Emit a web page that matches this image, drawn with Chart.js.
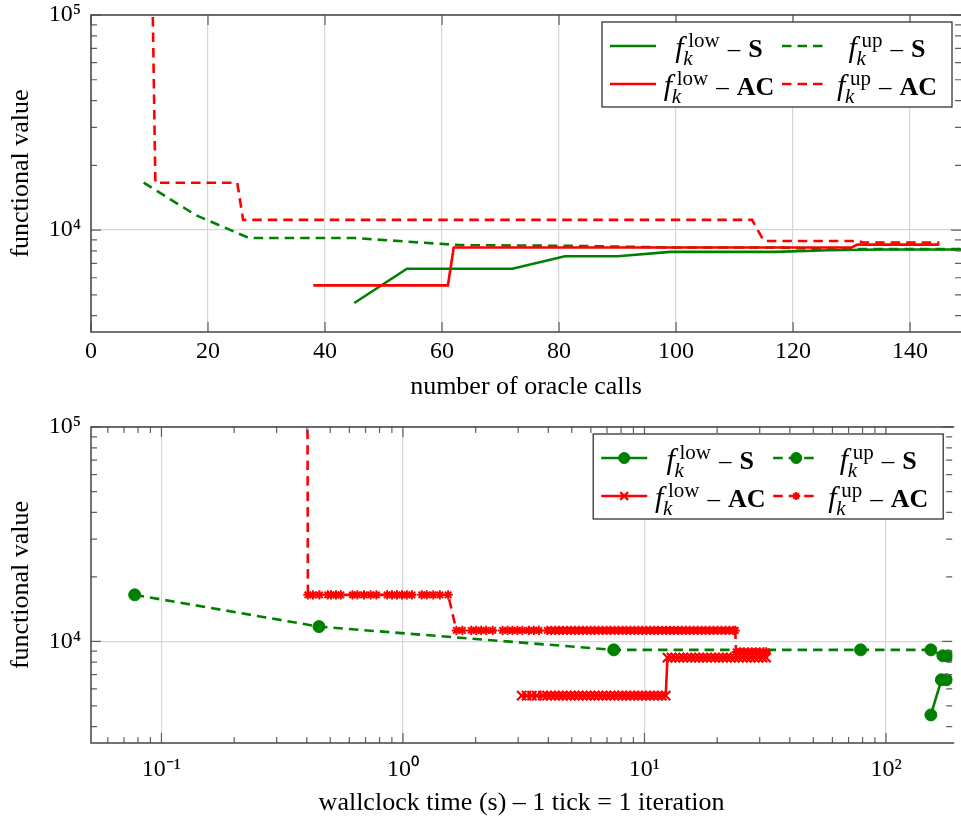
<!DOCTYPE html>
<html><head><meta charset="utf-8">
<script src="https://cdn.jsdelivr.net/npm/chart.js@4.4.1/dist/chart.umd.min.js"></script>
<style>
html,body{margin:0;padding:0;background:#fff;overflow:hidden;}
canvas{display:block;}
</style></head><body>
<canvas id="top" width="961" height="410"></canvas>
<canvas id="bot" width="961" height="411"></canvas>
<script>
// ---------------- data: top chart (number of oracle calls) ----------------
const topXTicks = [0, 20, 40, 60, 80, 100, 120, 140];
const topXMax = 148.7;
const sLowCalls    = [45, 54, 63, 72, 81, 90, 99, 108, 117, 126, 135, 144, 153];
const sLowCallVals = [4580, 6610, 6610, 6610, 7560, 7560, 7920, 7920, 7920, 8050, 8120, 8120, 8120];
const sUpCalls     = [9, 18, 27, 45, 63, 81, 99, 117, 126, 153];
const sUpCallVals  = [16600, 11700, 9180, 9180, 8510, 8450, 8300, 8300, 8150, 8150];
const acLowCalls    = [38, 61, 62, 130, 131, 145];
const acLowCallVals = [5530, 5530, 8300, 8300, 8560, 8560];
const acUpCalls     = [10, 11, 25, 26, 113, 115, 131, 132, 145];
const acUpCallVals  = [1e6, 16600, 16600, 11150, 11150, 8900, 8900, 8750, 8750];

// ---------------- data: bottom chart (wallclock time) ----------------
const sUpTimes = [0.0775, 0.449, 7.46, 78.5, 153.4, 172, 181, 200];
const sUpVals  = [16480, 11720, 9130, 9130, 9130, 8560, 8560, 8560];
const sLowTimes = [153.4, 169.6, 178, 200];
const sLowVals  = [4540, 6620, 6620, 6620];
// AC upper bound: constant levels, each with the iteration times
const acUpLevels = [1e6, 16480, 11250, 8930];
const acUpT0 = [0.401];
const acUpT1 = [0.404, 0.424, 0.451, 0.488, 0.504, 0.528, 0.553, 0.618, 0.648, 0.690, 0.735, 0.777,
  0.860, 0.901, 0.945, 0.991, 1.038, 1.089, 1.196, 1.254, 1.336, 1.422, 1.539];
const acUpT2 = [1.664, 1.762, 1.918, 2.011, 2.108, 2.210, 2.353, 2.586, 2.712, 2.842, 2.980, 3.124,
  3.324, 3.485, 3.654, 3.96, 4.11, 4.27, 4.43, 4.60, 4.78, 4.96, 5.15, 5.35, 5.56, 5.77, 5.99, 6.22,
  6.46, 6.71, 6.97, 7.24, 7.52, 7.81, 8.11, 8.42, 8.74, 9.08, 9.43, 9.79, 10.17, 10.56, 10.97, 11.39,
  11.83, 12.28, 12.75, 13.24, 13.75, 14.28, 14.83, 15.40, 15.99, 16.61, 17.25, 17.91, 18.60, 19.32,
  20.06, 20.83, 21.63, 22.46, 23.33, 23.76];
const acUpT3 = [23.95, 24.9, 25.8, 26.8, 27.8, 28.9, 30.0, 31.1, 31.9];
// AC lower bound
const acLowLevels = [5585, 8400];
const acLowT1 = [3.10, 3.25, 3.42, 3.58, 3.80, 3.95, 4.10, 4.26, 4.42, 4.59, 4.77, 4.95, 5.14, 5.34,
  5.55, 5.76, 5.98, 6.21, 6.45, 6.70, 6.96, 7.23, 7.50, 7.79, 8.09, 8.40, 8.73, 9.06, 9.41, 9.77,
  10.15, 10.54, 10.94, 11.36, 11.80, 12.25];
const acLowT2 = [12.45, 12.93, 13.43, 13.94, 14.48, 15.04, 15.61, 16.21, 16.84, 17.49, 18.16, 18.86,
  19.58, 20.34, 21.12, 21.93, 22.77, 23.65, 24.56, 25.50, 26.48, 27.50, 28.56, 29.66, 30.80, 31.9];

// ---------------- ticks ----------------
const yMajor = [1e4, 1e5];
const yMajorLabels = ['10⁴', '10⁵'];
const yMinor = [4000, 5000, 6000, 7000, 8000, 9000, 20000, 30000, 40000, 50000, 60000, 70000, 80000, 90000];
const yMin = 3357, yMax = 1e5;
const botXMajor = [0.1, 1, 10, 100];
const botXMajorLabels = ['10⁻¹', '10⁰', '10¹', '10²'];
const botXMinor = [0.06, 0.07, 0.08, 0.09, 0.2, 0.3, 0.4, 0.5, 0.6, 0.7, 0.8, 0.9,
  2, 3, 4, 5, 6, 7, 8, 9, 20, 30, 40, 50, 60, 70, 80, 90];
const botXMin = 0.0511, botXMax = 188;

// legend text
const legendSup = ['low', 'up', 'low', 'up'];
const legendMethod = ['S', 'S', 'AC', 'AC'];

// ---------------- styling ----------------
const FONT = '"Liberation Serif", "Times New Roman", serif';
const GREEN = '#008000', RED = '#ff0000';
const GRID = '#d6d6d6', TICKC = '#606060', FRAMEC = '#444444';
const DASH = [9.5, 6];
Chart.defaults.font.family = FONT;

const pts = (xs, ys) => xs.map((x, i) => ({x, y: ys[i]}));
const steps = (levels, groups) => groups.flatMap((g, i) => g.map(t => ({x: t, y: levels[i]})));

function tickList(major, minor) {
  return major.map(v => ({value: v, major: true}))
    .concat(minor.map(v => ({value: v, major: false})))
    .sort((a, b) => a.value - b.value);
}

function drawMarker(ctx, style, x, y, r, color, bw) {
  ctx.save();
  ctx.strokeStyle = color; ctx.fillStyle = color; ctx.lineWidth = bw; ctx.setLineDash([]);
  ctx.beginPath();
  if (style === 'circle') {
    ctx.arc(x, y, r, 0, Math.PI * 2); ctx.fill(); ctx.stroke();
  } else {
    const d = r * Math.SQRT1_2;
    ctx.moveTo(x - d, y - d); ctx.lineTo(x + d, y + d);
    ctx.moveTo(x - d, y + d); ctx.lineTo(x + d, y - d);
    if (style === 'star') {
      ctx.moveTo(x - r, y); ctx.lineTo(x + r, y);
      ctx.moveTo(x, y - r); ctx.lineTo(x, y + r);
    }
    ctx.stroke();
  }
  ctx.restore();
}

function drawLabel(ctx, cx, y, sup, method) {
  const fF = `italic 30px ${FONT}`, sF = `21px ${FONT}`, kF = `italic 21px ${FONT}`;
  const dF = `25px ${FONT}`, bF = `bold 26px ${FONT}`;
  ctx.font = fF; const mf = ctx.measureText('f');
  const fL = mf.actualBoundingBoxLeft || 0, fR = mf.actualBoundingBoxRight || mf.width;
  ctx.font = sF; const ws = ctx.measureText(sup).width;
  ctx.font = kF; const wk = ctx.measureText('k').width;
  ctx.font = dF; const wd = ctx.measureText('–').width;
  ctx.font = bF; const wb = ctx.measureText(method).width;
  const supX = fR + 1, subX = fR - 4;
  const scrEnd = Math.max(supX + ws, subX + wk);
  const g = 8;
  const total = fL + scrEnd + g + wd + g + wb;
  const x0 = cx - total / 2 + fL;
  ctx.fillStyle = '#000'; ctx.textBaseline = 'alphabetic'; ctx.textAlign = 'left';
  ctx.font = fF; ctx.fillText('f', x0, y + 10.5);
  ctx.font = sF; ctx.fillText(sup, x0 + supX, y + 1);
  ctx.font = kF; ctx.fillText('k', x0 + subX, y + 19);
  ctx.font = dF; ctx.fillText('–', x0 + scrEnd + g, y + 10.5);
  ctx.font = bF; ctx.fillText(method, x0 + scrEnd + g + wd + g, y + 10.5);
}

const decor = {
  id: 'decor',
  afterDraw(chart) {
    const {ctx, chartArea: a, scales} = chart;
    ctx.save();
    // inner tick marks on all four sides
    ctx.strokeStyle = TICKC; ctx.lineWidth = 1.2;
    for (const s of [scales.x, scales.y]) {
      for (const t of s.ticks) {
        const p = s.getPixelForValue(t.value);
        const len = t.major ? 10 : 6;
        ctx.beginPath();
        if (s.isHorizontal()) {
          ctx.moveTo(p, a.bottom); ctx.lineTo(p, a.bottom - len);
          ctx.moveTo(p, a.top); ctx.lineTo(p, a.top + len);
        } else {
          ctx.moveTo(a.left, p); ctx.lineTo(a.left + len, p);
          ctx.moveTo(a.right, p); ctx.lineTo(a.right - len, p);
        }
        ctx.stroke();
      }
    }
    // frame
    ctx.strokeStyle = FRAMEC; ctx.lineWidth = 1.5;
    ctx.beginPath();
    ctx.moveTo(a.right + 2, a.top); ctx.lineTo(a.left, a.top);
    ctx.lineTo(a.left, a.bottom); ctx.lineTo(a.right + 2, a.bottom);
    ctx.stroke();
    // legend
    const W = 350, H = 85;
    const L = a.right - 9 - W, T = a.top + 7;
    ctx.fillStyle = '#fff'; ctx.fillRect(L, T, W, H);
    ctx.strokeStyle = '#333'; ctx.lineWidth = 1.3; ctx.strokeRect(L, T, W, H);
    chart.data.datasets.forEach(d => {
      const i = d.legendIndex, r = Math.floor(i / 2), c = i % 2;
      const y = T + 24 + r * 38;
      const sx = L + (c ? 180 : 8);
      ctx.beginPath(); ctx.setLineDash(d.borderDash || []);
      ctx.lineWidth = d.borderWidth; ctx.strokeStyle = d.borderColor;
      ctx.moveTo(sx, y); ctx.lineTo(sx + 46, y); ctx.stroke(); ctx.setLineDash([]);
      if (d.pointRadius > 0) drawMarker(ctx, d.pointStyle, sx + 23, y, d.legendR, d.borderColor, d.pointBorderWidth);
      drawLabel(ctx, L + (c ? 285 : 117), y, legendSup[i], legendMethod[i]);
    });
    ctx.restore();
  }
};

function yScale(pad) {
  return {
    type: 'logarithmic', min: yMin, max: yMax,
    afterFit: s => { s.width = 91; s.paddingTop = 0; s.paddingBottom = 0; },
    afterBuildTicks: s => { s.ticks = tickList(yMajor, yMinor); },
    ticks: {
      autoSkip: false, padding: 10, color: '#000', font: {size: 24},
      callback: v => { const k = yMajor.indexOf(v); return k >= 0 ? yMajorLabels[k] : ''; }
    },
    grid: { drawTicks: false, lineWidth: 1.2, color: c => (c.tick && c.tick.major) ? GRID : 'rgba(0,0,0,0)' },
    border: { display: false },
    title: { display: true, text: 'functional value', color: '#000', font: {size: 26}, padding: {top: pad, bottom: 0} }
  };
}

function line(data, color, dashed, idx, extra) {
  return Object.assign({
    data, borderColor: color, backgroundColor: color, borderWidth: 2.6,
    borderDash: dashed ? DASH : [], pointRadius: 0, tension: 0,
    legendIndex: idx, order: 4 - idx
  }, extra || {});
}

const xFit = s => { s.height = 78; s.paddingLeft = 0; s.paddingRight = 0; };

// ---------------- top chart ----------------
new Chart(document.getElementById('top'), {
  type: 'line',
  data: { datasets: [
    line(pts(sLowCalls, sLowCallVals), GREEN, false, 0),
    line(pts(sUpCalls, sUpCallVals), GREEN, true, 1),
    line(pts(acLowCalls, acLowCallVals), RED, false, 2),
    line(pts(acUpCalls, acUpCallVals), RED, true, 3)
  ]},
  options: {
    responsive: false, animation: false, events: [],
    layout: { padding: {top: 15, right: 0, bottom: 0, left: 0} },
    plugins: { legend: {display: false}, tooltip: {enabled: false} },
    scales: {
      x: {
        type: 'linear', min: 0, max: topXMax,
        afterFit: xFit,
        afterBuildTicks: s => { s.ticks = topXTicks.map(v => ({value: v, major: true})); },
        ticks: { autoSkip: false, maxRotation: 0, padding: 5, color: '#000', font: {size: 24}, callback: v => String(v) },
        grid: { drawTicks: false, lineWidth: 1.2, color: GRID },
        border: { display: false },
        title: { display: true, text: 'number of oracle calls', color: '#000', font: {size: 26}, padding: {top: 0, bottom: 7} }
      },
      y: yScale(6)
    }
  },
  plugins: [decor]
});

// ---------------- bottom chart ----------------
new Chart(document.getElementById('bot'), {
  type: 'line',
  data: { datasets: [
    line(pts(sLowTimes, sLowVals), GREEN, false, 0,
      {pointRadius: 6, pointStyle: 'circle', pointBackgroundColor: GREEN, pointBorderColor: GREEN, pointBorderWidth: 1, legendR: 5.5}),
    line(pts(sUpTimes, sUpVals), GREEN, true, 1,
      {pointRadius: 6, pointStyle: 'circle', pointBackgroundColor: GREEN, pointBorderColor: GREEN, pointBorderWidth: 1, legendR: 5.5}),
    line(steps(acLowLevels, [acLowT1, acLowT2]), RED, false, 2,
      {pointRadius: 6.5, pointStyle: 'crossRot', pointBorderColor: RED, pointBorderWidth: 2.3, legendR: 5.5}),
    line(steps(acUpLevels, [acUpT0, acUpT1, acUpT2, acUpT3]), RED, true, 3,
      {pointRadius: 4.6, pointStyle: 'star', pointBorderColor: RED, pointBorderWidth: 2, legendR: 4})
  ]},
  options: {
    responsive: false, animation: false, events: [],
    layout: { padding: {top: 17, right: 0, bottom: 0, left: 0} },
    plugins: { legend: {display: false}, tooltip: {enabled: false} },
    scales: {
      x: {
        type: 'logarithmic', min: botXMin, max: botXMax,
        afterFit: xFit,
        afterBuildTicks: s => { s.ticks = tickList(botXMajor, botXMinor); },
        ticks: {
          autoSkip: false, maxRotation: 0, padding: 12, color: '#000', font: {size: 24},
          callback: v => { const k = botXMajor.indexOf(v); return k >= 0 ? botXMajorLabels[k] : ''; }
        },
        grid: { drawTicks: false, lineWidth: 1.2, color: c => (c.tick && c.tick.major) ? GRID : 'rgba(0,0,0,0)' },
        border: { display: false },
        title: { display: true, text: 'wallclock time (s) – 1 tick = 1 iteration', color: '#000', font: {size: 26}, padding: {top: 0, bottom: 2.4} }
      },
      y: yScale(6)
    }
  },
  plugins: [decor]
});
</script>
</body></html>
